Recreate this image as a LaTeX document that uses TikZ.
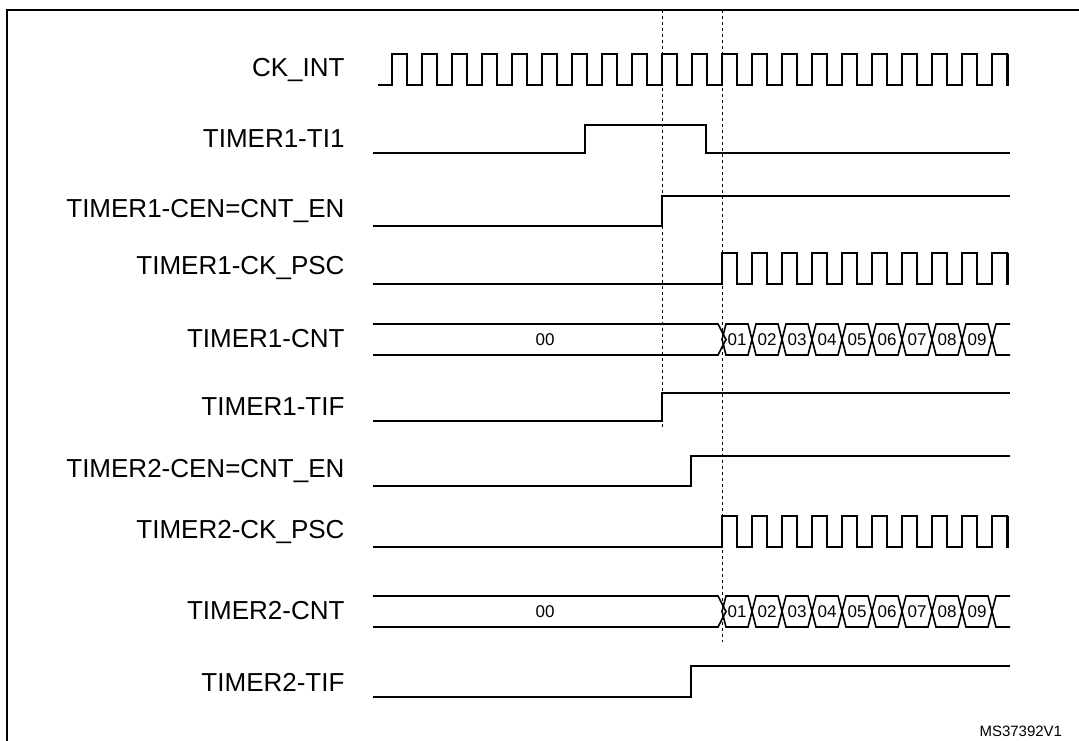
\documentclass[tikz,border=0pt]{standalone}
\usepackage{fontspec}
\setmainfont{Liberation Sans}
\usetikzlibrary{positioning,calc}

\begin{document}
\begin{tikzpicture}[x=1pt,y=-1pt,
    sig/.style={line width=1.6pt},
    lbl/.style={anchor=east, font=\fontsize{26}{28}\selectfont},
    val/.style={font=\fontsize{17}{18}\selectfont},
    guide/.style={dashed, line width=0.9pt}]
    \useasboundingbox (0,0) rectangle (1079,741);
    % Cadre
    \draw[line width=1.6pt] (7,10) rectangle (1090,760);

    % Étiquettes des signaux
    \node[lbl] (ckint) at (348,70) {CK\_INT};
    \node[lbl] (t1ti) at (348,139) {TIMER1-TI1};
    \node[lbl] (t1cen) at (348,211) {TIMER1-CEN=CNT\_EN};
    \node[lbl] (t1psc) at (348,268) {TIMER1-CK\_PSC};
    \node[lbl] (t1cnt) at (348,339) {TIMER1-CNT};
    \node[lbl] (t1tif) at (348,407) {TIMER1-TIF};
    \node[lbl] (t2cen) at (348,471) {TIMER2-CEN=CNT\_EN};
    \node[lbl] (t2psc) at (348,532) {TIMER2-CK\_PSC};
    \node[lbl] (t2cnt) at (348,611) {TIMER2-CNT};
    \node[lbl] (t2tif) at (348,682) {TIMER2-TIF};

    % Lignes pointillées
    \coordinate (g1a) at (662,10);
    \coordinate (g1b) at (662,430);
    \coordinate (g2a) at (722,10);
    \coordinate (g2b) at (722,642);
    \draw[guide] (g1a) -- (g1b);
    \draw[guide] (g2a) -- (g2b);

    % Horloge interne
    \draw[sig] (378,85) -- (392,85)
        \foreach \k in {0,...,19} { -- ++(0,-31) -- ++(15,0) -- ++(0,31) -- ++(15,0) }
        -- ++(0,-31) -- ++(15,0) -- ++(0,31) -- ++(1,0) -- ++(0,-31);

    % Signaux logiques
    \draw[sig] (373,153) -- (585,153) -- (585,125) -- (706,125) -- (706,153) -- (1010,153);
    \draw[sig] (373,226) -- (662,226) -- (662,196) -- (1010,196);
    \draw[sig] (373,421) -- (662,421) -- (662,393) -- (1010,393);
    \draw[sig] (373,486) -- (691,486) -- (691,456) -- (1010,456);
    \draw[sig] (373,697) -- (691,697) -- (691,666) -- (1010,666);

    % Horloges des prédiviseurs
    \foreach \yl in {284,547} {
        \draw[sig] (373,\yl) -- (722,\yl)
            \foreach \k in {0,...,8} { -- ++(0,-31) -- ++(15,0) -- ++(0,31) -- ++(15,0) }
            -- ++(0,-31) -- ++(15,0) -- ++(0,31) -- ++(1,0) -- ++(0,-31);
    }

    % Compteurs
    \foreach \yt/\nm in {324/c1,596/c2} {
        \draw[sig] (373,\yt) -- (718,\yt) -- (726,\yt+15.5) -- (718,\yt+31) -- (373,\yt+31);
        \node[val] (\nm z) at (545,\yt+15.5) {00};
        \foreach \k in {1,...,9} {
            \pgfmathsetmacro{\xa}{722+30*(\k-1)}
            \draw[sig] (\xa,\yt+15.5) -- (\xa+4,\yt) -- (\xa+26,\yt) -- (\xa+30,\yt+15.5)
                -- (\xa+26,\yt+31) -- (\xa+4,\yt+31) -- cycle;
            \node[val] (\nm\k) at (\xa+15,\yt+15.5) {0\k};
        }
        \draw[sig] (1010,\yt) -- (996,\yt) -- (992,\yt+15.5) -- (996,\yt+31) -- (1010,\yt+31);
    }

    % Référence
    \node[anchor=west, font=\fontsize{15}{16}\selectfont] (ref) at (976,731) {MS37392V1};
\end{tikzpicture}
\end{document}
